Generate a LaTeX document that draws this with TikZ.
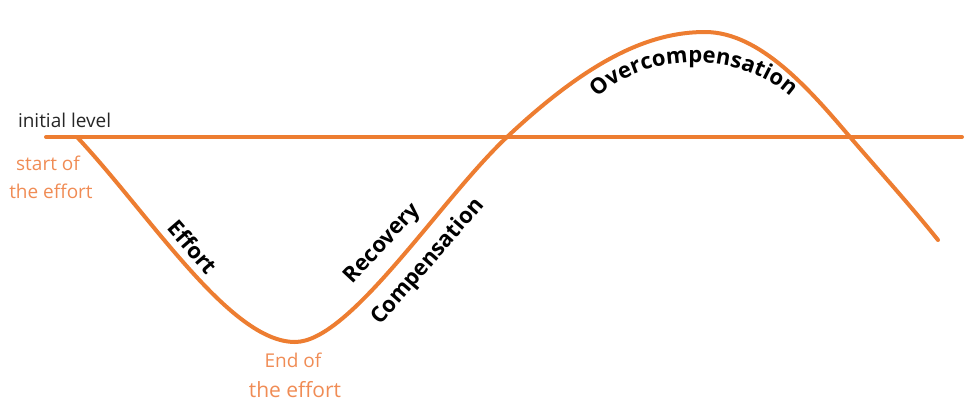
\documentclass[tikz,border=0pt]{standalone}
\usepackage{fontspec}
\setmainfont{Open Sans}
\usetikzlibrary{decorations.text}
\definecolor{curveorange}{HTML}{ED7D31}
\definecolor{noteorange}{HTML}{F08C55}
\newcommand{\drawnote}{\node[text=noteorange, inner sep=0]}
\newcommand{\drawphase}{\node[font=\bfseries\fontsize{22}{24}\selectfont, inner sep=0]}
\newcommand{\drawdummy}{\coordinate}

\begin{document}
\begin{tikzpicture}[x=1pt, y=-1pt, line width=4pt, line cap=round, every node/.style={font=\fontsize{19}{20}\selectfont}]
\useasboundingbox (0,0) rectangle (979,418);
%initial level
\drawdummy (lvlL) at (46,137);
\drawdummy (lvlR) at (962,137);
\draw[curveorange] (lvlL) -- (lvlR);
\node[anchor=base west, inner sep=0, text=black!85] (init) at (16,127) {initial level};

%the curve
\drawdummy (start) at (77,137);
\drawdummy (low) at (295,342);
\drawdummy (up) at (507,137);
\drawdummy (high) at (705,32);
\drawdummy (down) at (850,137);
\drawdummy (stop) at (938,240);
\draw[curveorange] (start) .. controls (150,215) and (230,342) .. (low)
  .. controls (350,342) and (440,200) .. (up)
  .. controls (590,59) and (650,32) .. (high)
  .. controls (760,32) and (810,90) .. (down)
  .. controls (880,172) and (910,205) .. (stop);

%notes
\drawnote[anchor=base, font=\fontsize{19}{20}\selectfont] (start1) at (48,170) {start of};
\drawnote[anchor=base, font=\fontsize{19}{20}\selectfont] (start2) at (51,198) {the effort};
\drawnote[anchor=base, font=\fontsize{19}{20}\selectfont] (end1) at (293,367) {End of};
\drawnote[anchor=base, font=\fontsize{21}{22}\selectfont] (end2) at (295,397) {the effort};

%phases
\drawphase (eff) [rotate=-49] at (193,247) {Effort};
\drawphase (rec) [rotate=47] at (383,244) {Recovery};
\drawphase (comp) [rotate=49] at (428,262) {Compensation};

\drawdummy (arcL) at (594,102);
\drawdummy (arcR) at (794,100);
\path[decorate, decoration={text along path, text align=center,
  text={|\bfseries\fontsize{22}{24}\selectfont|Overcompensation}}]
  (arcL) .. controls (640,50) and (745,50) .. (arcR);
\end{tikzpicture}
\end{document}
